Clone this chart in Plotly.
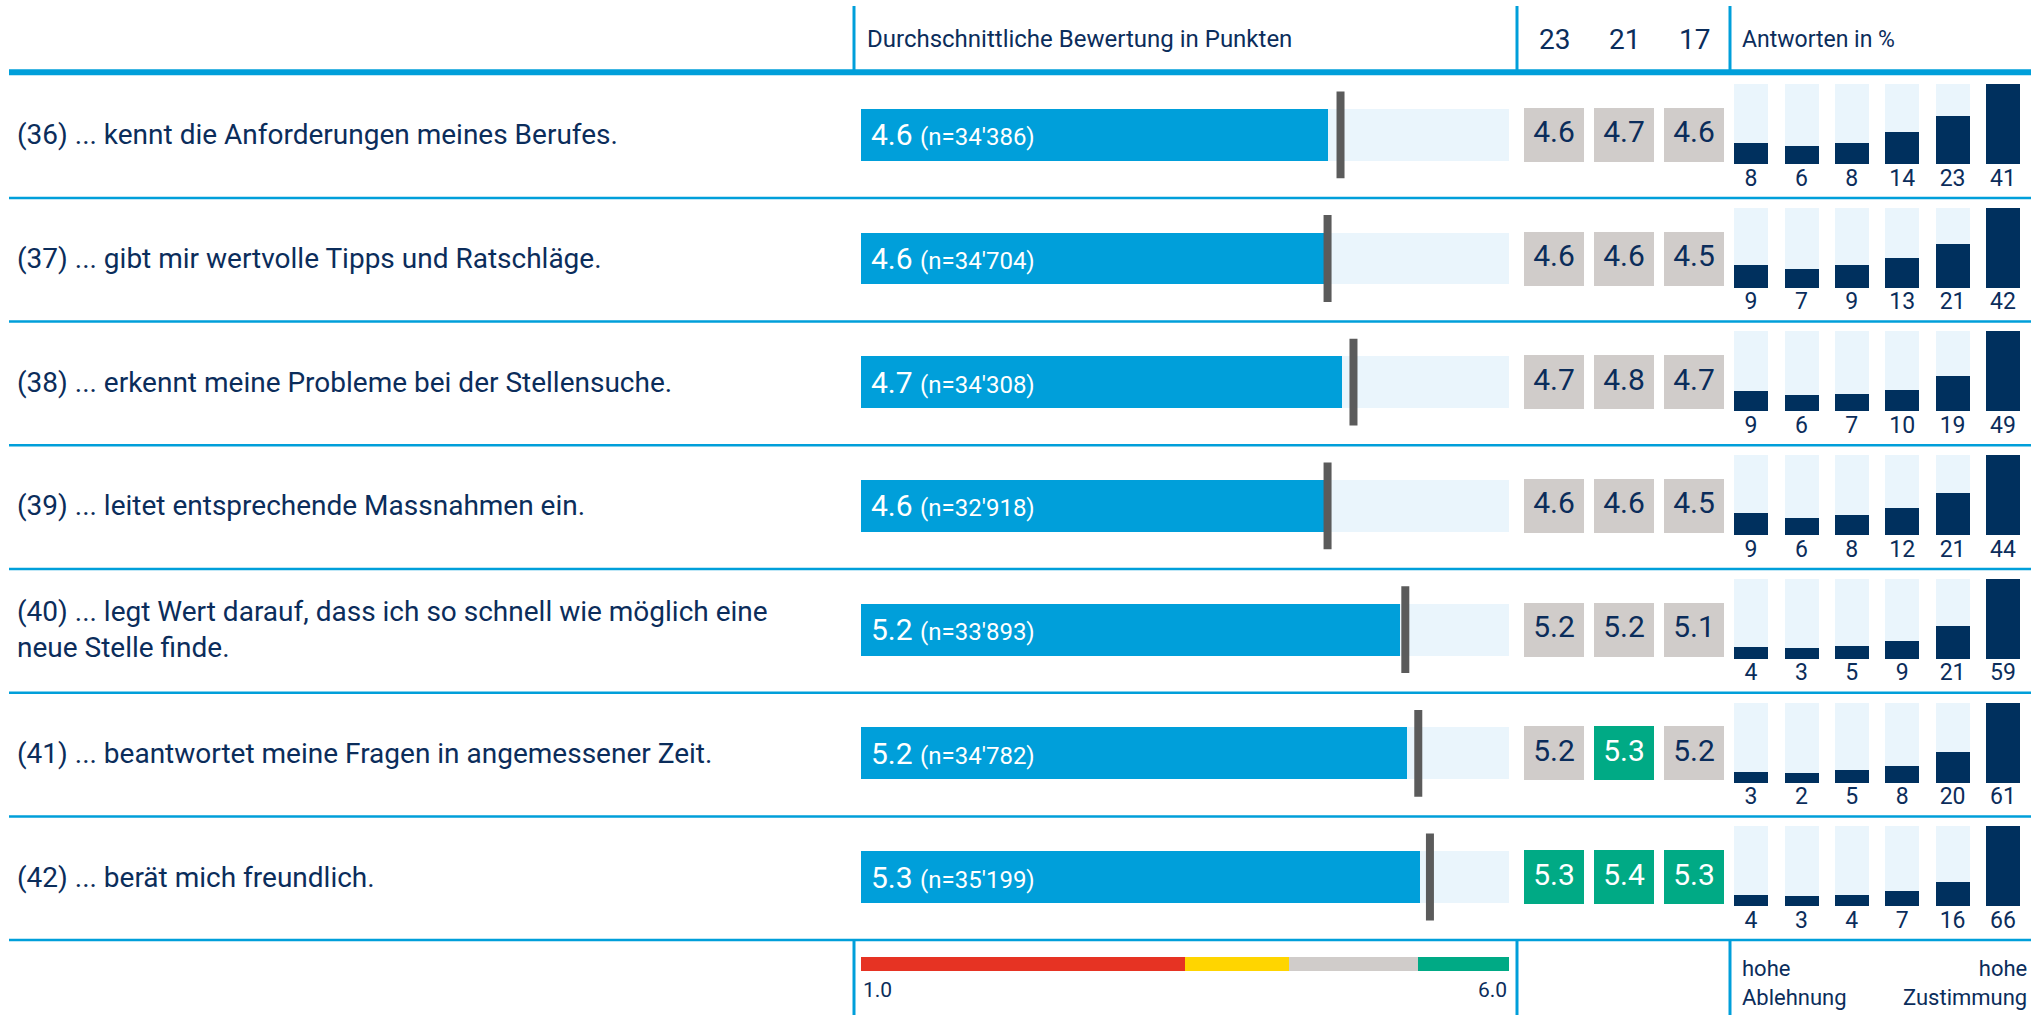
import plotly.graph_objects as go

# ---------------- data ----------------
labels = [
    "(36) ... kennt die Anforderungen meines Berufes.",
    "(37) ... gibt mir wertvolle Tipps und Ratschläge.",
    "(38) ... erkennt meine Probleme bei der Stellensuche.",
    "(39) ... leitet entsprechende Massnahmen ein.",
    "(40) ... legt Wert darauf, dass ich so schnell wie möglich eine<br>neue Stelle finde.",
    "(41) ... beantwortet meine Fragen in angemessener Zeit.",
    "(42) ... berät mich freundlich.",
]
mean_2023 = [4.60, 4.57, 4.71, 4.57, 5.16, 5.21, 5.31]
mean_text = ["4.6", "4.6", "4.7", "4.6", "5.2", "5.2", "5.3"]
n_resp = ["34'386", "34'704", "34'308", "32'918", "33'893", "34'782", "35'199"]
benchmark = [4.70, 4.60, 4.80, 4.60, 5.20, 5.30, 5.39]

year_labels = ["23", "21", "17"]
val_23 = [4.6, 4.6, 4.7, 4.6, 5.2, 5.2, 5.3]
val_21 = [4.7, 4.6, 4.8, 4.6, 5.2, 5.3, 5.4]
val_17 = [4.6, 4.5, 4.7, 4.5, 5.1, 5.2, 5.3]

dist = [
    [8, 6, 8, 14, 23, 41],
    [9, 7, 9, 13, 21, 42],
    [9, 6, 7, 10, 19, 49],
    [9, 6, 8, 12, 21, 44],
    [4, 3, 5, 9, 21, 59],
    [3, 2, 5, 8, 20, 61],
    [4, 3, 4, 7, 16, 66],
]

scale_min, scale_max = 1.0, 6.0
band_edges = [1.0, 3.5, 4.3, 5.3, 6.0]
band_colors = ["#E63323", "#FFD500", "#D0CCCA", "#00AA85"]

# ---------------- style / layout ----------------
W, H = 2042, 1015
ROW0, STEP = 134.8, 123.7
NAVY = "#0B2D5B"
DARK = "#00305E"
BLUE = "#009FDA"
LIGHT = "#EAF5FC"
LINE = "#009FDA"
FONT = "Roboto"

def pxx(p):
    return p / W

def pxy(p):
    return 1 - p / H

rows = list(range(len(labels)))

fig = go.Figure()

# main bar background
fig.add_trace(go.Bar(
    orientation="h", y=rows, x=[scale_max - scale_min] * len(rows), base=scale_min,
    width=0.42, marker=dict(color=LIGHT, line=dict(width=0)), xaxis="x", yaxis="y",
    hoverinfo="skip"))
# main bars
fig.add_trace(go.Bar(
    orientation="h", y=rows, x=[m - scale_min for m in mean_2023], base=scale_min,
    width=0.42, marker=dict(color=BLUE, line=dict(width=0)), xaxis="x", yaxis="y",
    hoverinfo="skip"))
# benchmark markers
fig.add_trace(go.Scatter(
    x=benchmark, y=rows, mode="markers", xaxis="x", yaxis="y",
    marker=dict(symbol="line-ns", size=62, line=dict(width=8, color="#5B5B5B")),
    hoverinfo="skip"))
# colour legend band
legend_y = (964 - ROW0) / STEP
fig.add_trace(go.Bar(
    orientation="h", y=[legend_y] * 4,
    x=[band_edges[i + 1] - band_edges[i] for i in range(4)],
    base=band_edges[:-1], width=0.117,
    marker=dict(color=band_colors, line=dict(width=0)), xaxis="x", yaxis="y",
    hoverinfo="skip"))

# year boxes
def band_color(v):
    for i in range(4):
        if v < band_edges[i + 1] or i == 3:
            return band_colors[i]

box_x, box_base, box_col, box_txt, box_tcol, box_y = [], [], [], [], [], []
BOX_H = 54 / STEP
for r in rows:
    for c, series in enumerate([val_23, val_21, val_17]):
        v = series[r]
        col = band_color(v)
        box_x.append(c)
        box_base.append(r - BOX_H / 2)
        box_col.append(col)
        box_txt.append(f"{v:.1f}")
        box_tcol.append("white" if col == band_colors[3] else NAVY)
        box_y.append(r)
fig.add_trace(go.Bar(
    x=box_x, y=[BOX_H] * len(box_x), base=box_base, width=0.857,
    marker=dict(color=box_col, line=dict(width=0)), xaxis="x2", yaxis="y",
    hoverinfo="skip"))
fig.add_trace(go.Scatter(
    x=box_x, y=box_y, mode="text", text=box_txt, xaxis="x2", yaxis="y",
    textfont=dict(family=FONT, size=30, color=box_tcol), hoverinfo="skip"))

# small distribution bars (min stub height + proportional part, scaled per row)
SB_H = 80 / STEP
SB_MIN = 7 / STEP
SB_BOT = 29.2 / STEP
SB_NUM = 45 / STEP
sx, sbase, sbg, sval, stxt, sty = [], [], [], [], [], []
for r in rows:
    mx = max(dist[r])
    for c, v in enumerate(dist[r]):
        sx.append(c)
        sbase.append(r + SB_BOT)
        sbg.append(-SB_H)
        sval.append(-(SB_MIN + (SB_H - SB_MIN) * v / mx))
        stxt.append(str(v))
        sty.append(r + SB_NUM)
fig.add_trace(go.Bar(
    x=sx, y=sbg, base=sbase, width=0.675, marker=dict(color=LIGHT, line=dict(width=0)),
    xaxis="x3", yaxis="y", hoverinfo="skip"))
fig.add_trace(go.Bar(
    x=sx, y=sval, base=sbase, width=0.675, marker=dict(color=DARK, line=dict(width=0)),
    xaxis="x3", yaxis="y", hoverinfo="skip"))
fig.add_trace(go.Scatter(
    x=sx, y=sty, mode="text", text=stxt, xaxis="x3", yaxis="y",
    textfont=dict(family=FONT, size=23, color=NAVY), hoverinfo="skip", cliponaxis=False))

annotations = []
# row labels
for r, lab in enumerate(labels):
    annotations.append(dict(
        x=pxx(15), xref="paper", y=r, yref="y", text=lab, showarrow=False,
        xanchor="left", yanchor="middle", align="left",
        font=dict(family=FONT, size=28, color=NAVY)))
    annotations.append(dict(
        x=scale_min, xref="x", xshift=8, y=r, yref="y", showarrow=False,
        xanchor="left", yanchor="middle",
        text=f"<span style='font-size:30px'>{mean_text[r]}</span> "
             f"<span style='font-size:24px'>(n={n_resp[r]})</span>",
        font=dict(family=FONT, size=30, color="white")))

# header
hy = pxy(39)
annotations.append(dict(x=pxx(865), xref="paper", y=hy, yref="paper", showarrow=False,
                        xanchor="left", yanchor="middle",
                        text="Durchschnittliche Bewertung in Punkten",
                        font=dict(family=FONT, size=24, color=NAVY)))
for c, yl in enumerate(year_labels):
    annotations.append(dict(x=c, xref="x2", y=hy, yref="paper", showarrow=False,
                            xanchor="center", yanchor="middle", text=yl,
                            font=dict(family=FONT, size=28, color=NAVY)))
annotations.append(dict(x=pxx(1740), xref="paper", y=hy, yref="paper", showarrow=False,
                        xanchor="left", yanchor="middle", text="Antworten in %",
                        font=dict(family=FONT, size=23, color=NAVY)))

# footer
annotations.append(dict(x=scale_min, xref="x", y=pxy(990), yref="paper", showarrow=False,
                        xanchor="left", yanchor="middle", text="1.0",
                        font=dict(family=FONT, size=21, color=NAVY)))
annotations.append(dict(x=scale_max, xref="x", y=pxy(990), yref="paper", showarrow=False,
                        xanchor="right", yanchor="middle", text="6.0",
                        font=dict(family=FONT, size=21, color=NAVY)))
annotations.append(dict(x=pxx(1740), xref="paper", y=pxy(983), yref="paper", showarrow=False,
                        xanchor="left", yanchor="middle", align="left",
                        text="hohe<br>Ablehnung",
                        font=dict(family=FONT, size=22, color=NAVY)))
annotations.append(dict(x=pxx(2029), xref="paper", y=pxy(983), yref="paper", showarrow=False,
                        xanchor="right", yanchor="middle", align="right",
                        text="hohe<br>Zustimmung",
                        font=dict(family=FONT, size=22, color=NAVY)))

shapes = []
# thick header line
shapes.append(dict(type="line", xref="paper", yref="y", x0=pxx(9), x1=pxx(2031),
                   y0=-0.505, y1=-0.505, line=dict(color=LINE, width=6)))
for r in rows:
    shapes.append(dict(type="line", xref="paper", yref="y", x0=pxx(9), x1=pxx(2031),
                       y0=r + 0.51, y1=r + 0.51, line=dict(color=LINE, width=2.5)))
for vx in [854, 1517, 1730]:
    shapes.append(dict(type="line", xref="paper", yref="paper", x0=pxx(vx), x1=pxx(vx),
                       y0=pxy(6), y1=pxy(72), line=dict(color=LINE, width=3)))
    shapes.append(dict(type="line", xref="paper", yref="paper", x0=pxx(vx), x1=pxx(vx),
                       y0=pxy(940), y1=0, line=dict(color=LINE, width=3)))

hidden = dict(showgrid=False, zeroline=False, showticklabels=False, showline=False,
              ticks="", fixedrange=True)

fig.update_layout(
    width=W, height=H, margin=dict(l=0, r=0, t=0, b=0),
    paper_bgcolor="white", plot_bgcolor="rgba(0,0,0,0)",
    showlegend=False, barmode="overlay", bargap=0,
    font=dict(family=FONT, color=NAVY),
    xaxis=dict(domain=[pxx(861), pxx(1509)], range=[scale_min, scale_max], **hidden),
    xaxis2=dict(domain=[pxx(1519), pxx(1729)], range=[-0.5, 2.5], anchor="y", **hidden),
    xaxis3=dict(domain=[pxx(1725.8), pxx(2028.2)], range=[-0.5, 5.5], anchor="y", **hidden),
    yaxis=dict(domain=[0, 1], range=[(H - ROW0) / STEP, -ROW0 / STEP], **hidden),
    annotations=annotations, shapes=shapes,
)

fig.write_html(
    "out.html",
    config={"displayModeBar": False},
    post_script="document.body.style.margin='0';document.body.style.overflow='hidden';",
)
